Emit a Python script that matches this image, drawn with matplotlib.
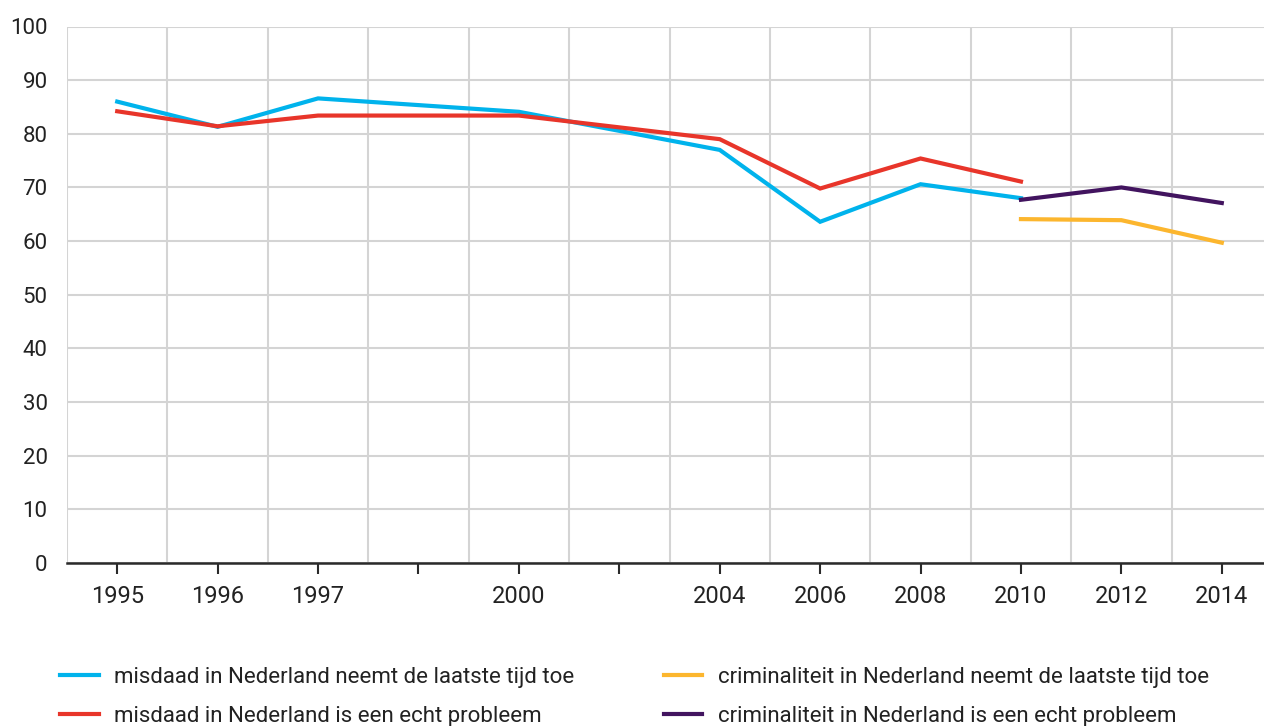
import numpy as np
import matplotlib
matplotlib.use("Agg")
import matplotlib.pyplot as plt

plt.rcParams['font.family'] = ['Roboto', 'DejaVu Sans']

# category axis (blank slots between 1997-2000 and 2000-2004)
tick_labels = ['1995', '1996', '1997', '', '2000', '', '2004', '2006', '2008', '2010', '2012', '2014']

# index of each observation on the category axis
x_misdaad = [0, 1, 2, 4, 6, 7, 8, 9]
misdaad_toe = [86.0, 81.3, 86.6, 84.1, 77.0, 63.6, 70.6, 68.0]
misdaad_probleem = [84.2, 81.4, 83.4, 83.4, 79.0, 69.8, 75.4, 71.1]

x_crim = [9, 10, 11]
crim_toe = [64.1, 63.9, 59.7]
crim_probleem = [67.7, 70.0, 67.1]

labels = ['misdaad in Nederland neemt de laatste tijd toe',
          'misdaad in Nederland is een echt probleem',
          'criminaliteit in Nederland neemt de laatste tijd toe',
          'criminaliteit in Nederland is een echt probleem']
colors = ['#00b3ec', '#e8352a', '#fcb62e', '#42145f']

W, H = 1264, 726
fig = plt.figure(figsize=(W / 100, H / 100), dpi=100)
left, right, top, bottom = 67, 1272, 26.5, 563
ax = fig.add_axes([left / W, 1 - bottom / H, (right - left) / W, (bottom - top) / H])

lw = 3.0
l1, = ax.plot(x_misdaad, misdaad_toe, color=colors[0], lw=lw, solid_joinstyle='miter')
l2, = ax.plot(x_misdaad, misdaad_probleem, color=colors[1], lw=lw, solid_joinstyle='miter')
l3, = ax.plot(x_crim, crim_toe, color=colors[2], lw=lw, solid_joinstyle='miter')
l4, = ax.plot(x_crim, crim_probleem, color=colors[3], lw=lw, solid_joinstyle='miter')

ax.set_xlim(-0.5, len(tick_labels) - 0.5)
ax.set_ylim(0, 100)
ax.set_xticks(range(len(tick_labels)))
ax.set_xticklabels(tick_labels)
ax.set_xticks(np.arange(-0.5, len(tick_labels), 1), minor=True)
ax.set_yticks(range(0, 101, 10))

ax.grid(True, which='minor', axis='x', color='#d4d4d4', lw=1.5)
ax.grid(True, which='major', axis='y', color='#d4d4d4', lw=1.5)
ax.set_axisbelow(True)
for s in ['top', 'right', 'left']:
    ax.spines[s].set_visible(False)
ax.spines['bottom'].set_color('#2a2a2a')
ax.spines['bottom'].set_linewidth(1.8)
ax.spines['bottom'].set_zorder(5)

ax.tick_params(axis='x', which='major', direction='out', length=8, width=1.5,
               color='#2a2a2a', pad=8, labelsize=17, labelcolor='#222222')
ax.tick_params(axis='x', which='minor', length=0)
ax.tick_params(axis='y', length=0, pad=14, labelsize=16, labelcolor='#222222')

fig.legend([l1, l2, l3, l4], labels, ncol=2, loc='upper left',
           bbox_to_anchor=(40 / W, 1 - 647 / H), frameon=False,
           fontsize=16, handlelength=1.75, handletextpad=0.7,
           columnspacing=4.0, labelspacing=0.82, labelcolor='#222222')

fig.savefig('out.png', dpi=100)
